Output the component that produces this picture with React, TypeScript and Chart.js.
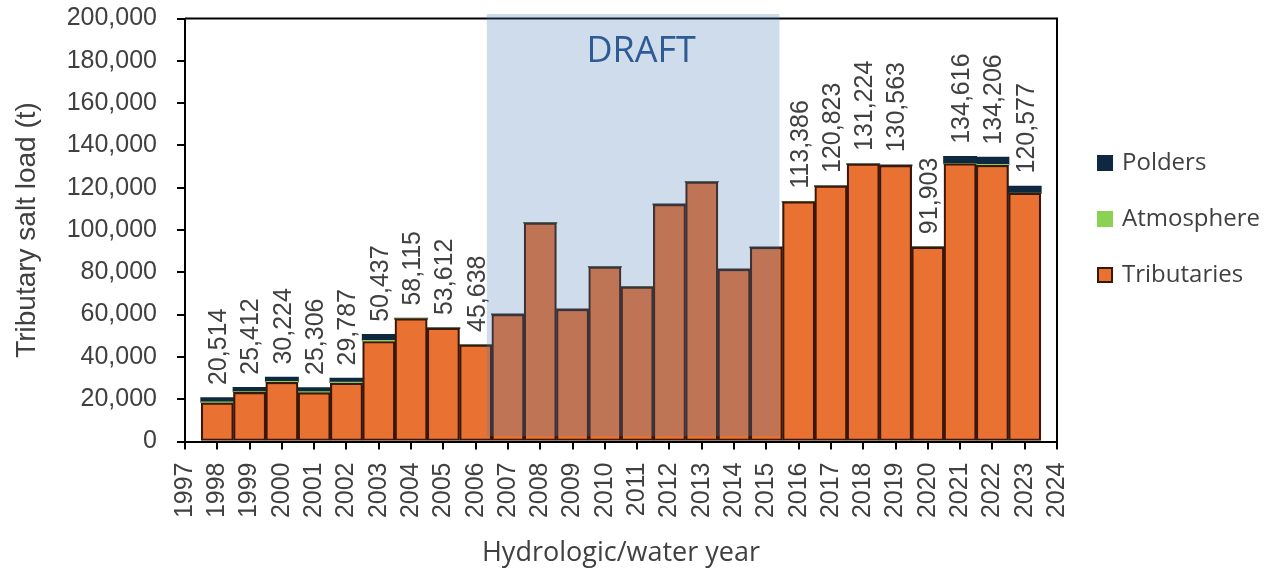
import React, { useEffect, useRef } from "react";
import { Chart, registerables } from "chart.js";

Chart.register(...registerables);

// ---- data ----
const years = [
  1998, 1999, 2000, 2001, 2002, 2003, 2004, 2005, 2006, 2007, 2008, 2009, 2010,
  2011, 2012, 2013, 2014, 2015, 2016, 2017, 2018, 2019, 2020, 2021, 2022, 2023,
];
const tributaries = [
  18300, 23200, 28000, 23100, 27600, 47300, 58115, 53612, 45638, 60100, 103400,
  62500, 82600, 73100, 112100, 122800, 81400, 91800, 113386, 120823, 131224,
  130563, 91903, 131400, 130600, 117400,
];
const atmosphere = [
  450, 450, 450, 450, 450, 500, 0, 0, 0, 0, 0, 0, 0, 0, 0, 0, 0, 0, 0, 0, 0, 0,
  0, 100, 450, 100,
];
const polders = [
  1764, 1762, 1774, 1756, 1737, 2637, 0, 0, 0, 0, 0, 0, 0, 0, 0, 0, 0, 0, 0, 0,
  0, 0, 0, 3116, 3156, 3077,
];
const draftFirstYear = 2007;
const draftLastYear = 2015;
const xAxisMin = 1997;
const xAxisMax = 2024;
const yAxisMax = 200000;
const yAxisStep = 20000;

const seriesNames = ["Tributaries", "Atmosphere", "Polders"];
const seriesColors = ["#E97132", "#8BD152", "#0E2841"];
const tribBorder = "#3A1707";
const textColor = "#404040";
const ARIAL = "'Liberation Sans', Arial, sans-serif";
const APTOS = "'Open Sans', Lato, sans-serif";

const fmt = (v: number) => Math.round(v).toLocaleString("en-US");

const decorPlugin = {
  id: "decor",
  beforeDatasetsDraw(chart: any) {
    const { ctx, chartArea } = chart;
    ctx.save();
    ctx.strokeStyle = "#000";
    ctx.lineWidth = 2;
    ctx.beginPath();
    ctx.moveTo(chartArea.left, chartArea.top);
    ctx.lineTo(chartArea.right, chartArea.top);
    ctx.lineTo(chartArea.right, chartArea.bottom);
    ctx.stroke();
    ctx.restore();
  },
  afterDatasetsDraw(chart: any) {
    const { ctx, chartArea } = chart;
    const xs = chart.scales.x;
    const ys = chart.scales.y;
    // total labels
    ctx.save();
    ctx.fillStyle = textColor;
    ctx.font = `25px ${ARIAL}`;
    ctx.textAlign = "left";
    ctx.textBaseline = "middle";
    years.forEach((yr, i) => {
      if (yr >= draftFirstYear && yr <= draftLastYear) return;
      const total = tributaries[i] + atmosphere[i] + polders[i];
      const px = xs.getPixelForValue(yr);
      const py = ys.getPixelForValue(total);
      ctx.save();
      ctx.translate(px + 2, py - 13);
      ctx.rotate(-Math.PI / 2);
      ctx.fillText(fmt(total), 0, 0);
      ctx.restore();
    });
    ctx.restore();

    // draft overlay
    const x1 = xs.getPixelForValue(draftFirstYear - 0.5) - 5;
    const x2 = xs.getPixelForValue(draftLastYear + 0.5) - 3;
    const y1 = chartArea.top - 4.5;
    const y2 = chartArea.bottom - 5.5;
    ctx.save();
    ctx.fillStyle = "rgba(78,126,181,0.27)";
    ctx.fillRect(x1, y1, x2 - x1, y2 - y1);
    ctx.fillStyle = "#2E5A95";
    ctx.font = `36px 'Open Sans', sans-serif`;
    ctx.textAlign = "center";
    ctx.textBaseline = "middle";
    ctx.fillText("DRAFT", (x1 + x2) / 2 + 8, chartArea.top + 33);
    ctx.restore();
  },
  afterDraw(chart: any) {
    const { ctx } = chart;
    ctx.save();
    ctx.font = `24px ${APTOS}`;
    ctx.textBaseline = "middle";
    ctx.textAlign = "left";
    const order = [2, 1, 0];
    order.forEach((si, k) => {
      const cy = 163 + k * 56;
      const bx = 1097;
      const bs = 16;
      ctx.fillStyle = seriesColors[si];
      ctx.fillRect(bx, cy - bs / 2, bs, bs);
      if (si === 0) {
        ctx.strokeStyle = tribBorder;
        ctx.lineWidth = 2;
        ctx.strokeRect(bx + 1, cy - bs / 2 + 1, bs - 2, bs - 2);
      }
      ctx.fillStyle = textColor;
      ctx.fillText(seriesNames[si], 1122, cy);
    });
    ctx.restore();
  },
};

const zeroPad = (s: any) => {
  s.paddingTop = 0;
  s.paddingBottom = 0;
  s.paddingLeft = 0;
  s.paddingRight = 0;
};

export default function App() {
  const ref = useRef<HTMLCanvasElement | null>(null);
  useEffect(() => {
    if (!ref.current) return;
    const mk = (arr: number[]) => years.map((yr, i) => ({ x: yr, y: arr[i] }));
    const chart = new Chart(ref.current, {
      type: "bar",
      data: {
        datasets: [
          {
            label: seriesNames[0],
            data: mk(tributaries),
            backgroundColor: seriesColors[0],
            borderColor: tribBorder,
            borderWidth: 2.2,
            borderSkipped: false,
            barPercentage: 1,
            categoryPercentage: 1,
          },
          {
            label: seriesNames[1],
            data: mk(atmosphere),
            backgroundColor: seriesColors[1],
            borderWidth: 0,
            barPercentage: 1,
            categoryPercentage: 1,
          },
          {
            label: seriesNames[2],
            data: mk(polders),
            backgroundColor: seriesColors[2],
            borderWidth: 0,
            inflateAmount: 0.8,
            barPercentage: 1,
            categoryPercentage: 1,
          },
        ] as any,
      },
      options: {
        animation: false,
        responsive: false,
        maintainAspectRatio: false,
        events: [],
        layout: { padding: { top: 18.5, right: 1266 - 1057, left: 0, bottom: 0 } },
        plugins: { legend: { display: false }, tooltip: { enabled: false } },
        scales: {
          x: {
            type: "linear",
            stacked: true,
            min: xAxisMin,
            max: xAxisMax,
            offset: false,
            ticks: {
              stepSize: 1,
              autoSkip: false,
              maxRotation: 90,
              minRotation: 90,
              padding: 13,
              color: textColor,
              font: { family: ARIAL, size: 25 },
              callback: (v: any) => String(v),
            },
            grid: {
              offset: false,
              drawOnChartArea: false,
              drawTicks: true,
              tickLength: 8,
              color: "#000",
              lineWidth: 2,
            },
            border: { display: true, color: "#000", width: 2 },
            title: {
              display: true,
              text: "Hydrologic/water year",
              color: textColor,
              font: { family: APTOS, size: 27 },
              padding: { top: 4, bottom: 4 },
            },
            afterFit: (s: any) => {
              s.height = 574 - 441.5;
              zeroPad(s);
            },
          } as any,
          y: {
            stacked: true,
            min: 0,
            max: yAxisMax,
            ticks: {
              stepSize: yAxisStep,
              padding: 20,
              color: textColor,
              font: { family: ARIAL, size: 25 },
              callback: (v: any) => fmt(Number(v)),
            },
            grid: {
              drawOnChartArea: false,
              drawTicks: true,
              tickLength: 8,
              color: "#000",
              lineWidth: 2,
            },
            border: { display: true, color: "#000", width: 2 },
            title: {
              display: true,
              text: "Tributary salt load (t)",
              color: textColor,
              font: { family: ARIAL, size: 28 },
              padding: { top: 10, bottom: 0 },
            },
            afterFit: (s: any) => {
              s.width = 185;
              zeroPad(s);
            },
          } as any,
        },
      },
      plugins: [decorPlugin],
    });
    return () => chart.destroy();
  }, []);

  return (
    <div style={{ position: "absolute", left: 0, top: 0, width: 1266, height: 574, background: "#fff" }}>
      <canvas ref={ref} width={1266} height={574} style={{ display: "block" }} />
    </div>
  );
}
